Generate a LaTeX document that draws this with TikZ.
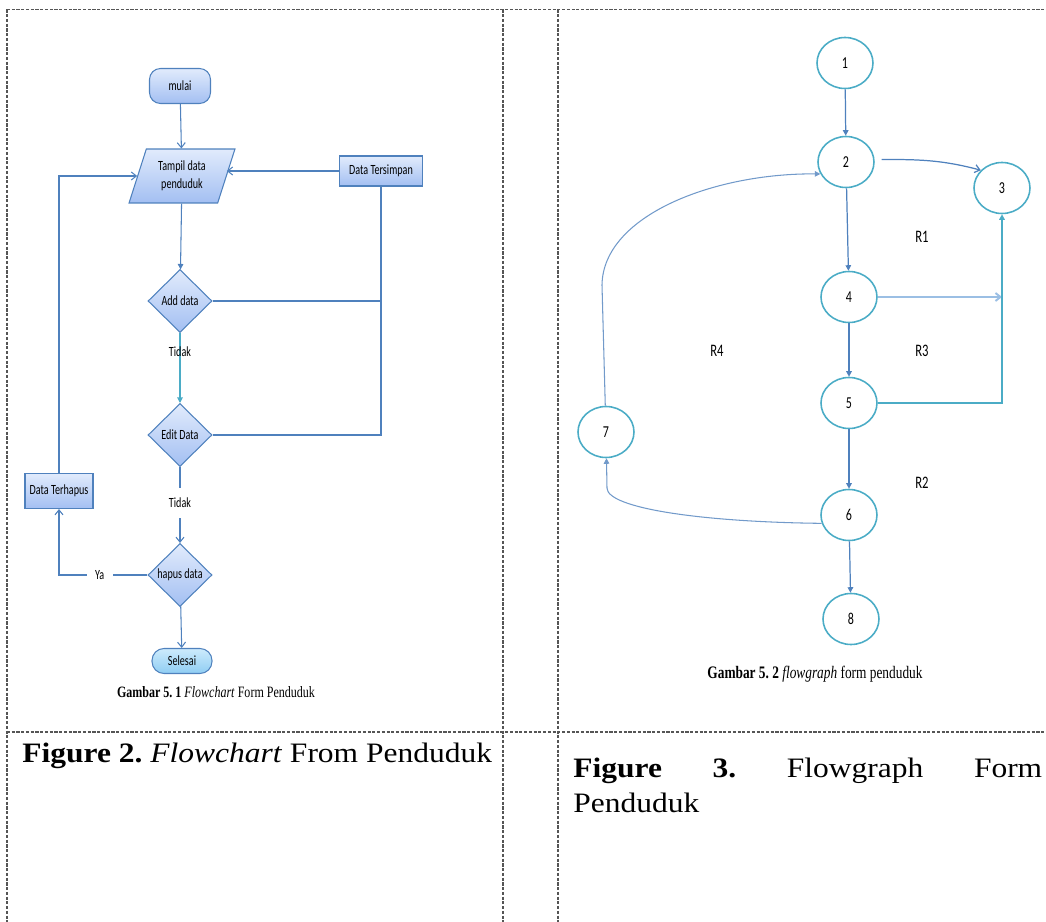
\documentclass[tikz,border=0pt]{standalone}
\usepackage{fontspec}
\setmainfont{Liberation Serif}
\newfontfamily\chartfont[FakeStretch=0.72]{Carlito}
\newfontfamily\capfont[FakeStretch=0.76]{Liberation Serif}
\newfontfamily\cellfont[FakeStretch=1.12]{Liberation Serif}
\usepackage{tikz}
\usetikzlibrary{arrows.meta,shapes.geometric}

\definecolor{lineblue}{HTML}{4F81BD}
\definecolor{ringteal}{HTML}{4BACC6}
\definecolor{fillhi}{HTML}{E1EBFC}
\definecolor{filllo}{HTML}{A3BFF2}
\definecolor{endhi}{HTML}{CDEBFC}
\definecolor{endlo}{HTML}{8FCDF3}
\definecolor{lightarr}{HTML}{9BBFE4}
\definecolor{framegray}{HTML}{555555}

\frenchspacing
\begin{document}
\begin{tikzpicture}[x=0.02cm,y=-0.02cm,
    frame/.style={framegray,line width=0.6pt,dash pattern=on 1.8pt off 0.9pt},
    openhead/.style={-{Straight Barb[length=1mm,width=1.6mm]}},
    solidhead/.style={-{Triangle[length=1.1mm,width=1.1mm]}},
    chartline/.style={draw=lineblue,line width=0.6pt},
    chartlbl/.style={font=\chartfont\fontsize{8}{10}\selectfont,inner sep=1pt},
    regionlbl/.style={font=\chartfont\fontsize{10}{12}\selectfont}]
    \useasboundingbox (0,0) rectangle (1046,922);

    \draw[frame] (7,9.5) -- (1046,9.5);
    \draw[frame] (7,732) -- (1046,732);
    \foreach \x in {7,503,558}
        \draw[frame] (\x,9.5) -- (\x,922);

    \begin{scope}[every node/.style={draw=lineblue,line width=0.6pt,top color=fillhi,bottom color=filllo,
                                     font=\chartfont\fontsize{8}{10.2}\selectfont,inner sep=0pt}]
        \node[rounded corners=0.22cm,minimum width=1.22cm,minimum height=0.7cm] (mulai) at (180,86) {mulai};
        \node[trapezium,trapezium left angle=69,trapezium right angle=111,trapezium stretches=true,
              minimum width=2.12cm,minimum height=1.08cm,align=center] (tampil) at (182,176) {Tampil data\\penduduk};
        \node[rectangle,minimum width=1.66cm,minimum height=0.6cm] (tersimpan) at (381,171) {Data Tersimpan};
        \node[diamond,minimum width=1.28cm,minimum height=1.26cm] (add) at (180,301) {Add data};
        \node[diamond,minimum width=1.28cm,minimum height=1.26cm] (edit) at (180,435) {Edit Data};
        \node[diamond,minimum width=1.28cm,minimum height=1.26cm] (hapus) at (180,575) {hapus data};
        \node[rectangle,minimum width=1.36cm,minimum height=0.7cm] (terhapus) at (59,491) {Data Terhapus};
        \node[rounded corners=0.24cm,minimum width=1.2cm,minimum height=0.5cm,
              top color=endhi,bottom color=endlo] (selesai) at (182,661) {Selesai};
    \end{scope}

    \begin{scope}[every edge/.style={chartline}]
        \path [openhead] (mulai) edge (tampil);
        \path [solidhead] (tampil) edge (add);
        \path [openhead] (tersimpan.west) edge (tersimpan.west -| tampil.east);
        \path [-] (add.east) edge (add.east -| tersimpan.south);
        \path [solidhead] (add) edge[draw=ringteal] node[chartlbl,pos=0.26] {Tidak} (edit);
        \path [openhead] (edit) edge node[chartlbl,pos=0.47,fill=white,inner ysep=0.2cm] {Tidak} (hapus);
        \path [openhead] (hapus) edge (selesai);
    \end{scope}
    \draw[chartline] (tersimpan.south) |- (edit.east);
    \draw[chartline,openhead] (hapus.west) -| node[chartlbl,pos=0.27,fill=white,inner xsep=0.17cm] {Ya} (terhapus.south);
    \draw[chartline,openhead] (terhapus.north) |- (tampil.west);

    \node[font=\capfont\fontsize{9}{11}\selectfont] (cap1) at (216,692)
        {\textbf{Gambar 5. 1} \textit{Flowchart} Form Penduduk};

    \begin{scope}[every node/.style={ellipse,draw=ringteal,line width=0.9pt,minimum width=1.12cm,
                                     minimum height=1.02cm,inner sep=0pt,font=\chartfont\fontsize{9.5}{11}\selectfont}]
        \node (n1) at (845,63) {1};
        \node (n2) at (846,162) {2};
        \node (n3) at (1002,188) {3};
        \node (n4) at (849,297) {4};
        \node (n5) at (849,403) {5};
        \node (n6) at (849,515) {6};
        \node (n7) at (606,432) {7};
        \node (n8) at (851,619) {8};
    \end{scope}

    \node[regionlbl] (r1) at (922,237) {R1};
    \node[regionlbl] (r3) at (922,351) {R3};
    \node[regionlbl] (r4) at (717,351) {R4};
    \node[regionlbl] (r2) at (922,483) {R2};

    \begin{scope}[every edge/.style={draw=lineblue,line width=0.7pt}]
        \path [solidhead] (n1) edge (n2)
                          (n2) edge (n4)
                          (n4) edge (n5)
                          (n5) edge (n6)
                          (n6) edge (n8);
        \path [openhead] (n2.5) edge[out=0,in=165,shorten <=4pt] (n3.140);
    \end{scope}
    \draw[lightarr,line width=1.1pt,openhead] (n4) -- (n4 -| n3);
    \draw[ringteal,line width=0.9pt,solidhead] (n5) -| (n3);
    \draw[lineblue!80,line width=0.6pt,solidhead] (n7) -- (602,285)
        .. controls (603,215) and (715,173) .. (n2.205);
    \draw[lineblue!80,line width=0.6pt,solidhead] (n6.197)
        .. controls (700,522) and (607,508) .. (607,488) -- (n7);

    \node[font=\capfont\fontsize{10}{12}\selectfont] (cap2) at (815,674)
        {\textbf{Gambar 5. 2} \textit{flowgraph} form penduduk};

    \node[anchor=base west,inner sep=0pt,font=\cellfont\fontsize{16}{20}\selectfont] (fig2) at (22,762)
        {\textbf{Figure 2.} \textit{Flowchart} From Penduduk};
    \node[anchor=north west,inner sep=0pt,text width=9.38cm,align=justify,
          font=\cellfont\fontsize{16}{19.8}\selectfont] (fig3) at (573,758)
        {\textbf{Figure 3.} Flowgraph Form\linebreak Penduduk};
\end{tikzpicture}
\end{document}
